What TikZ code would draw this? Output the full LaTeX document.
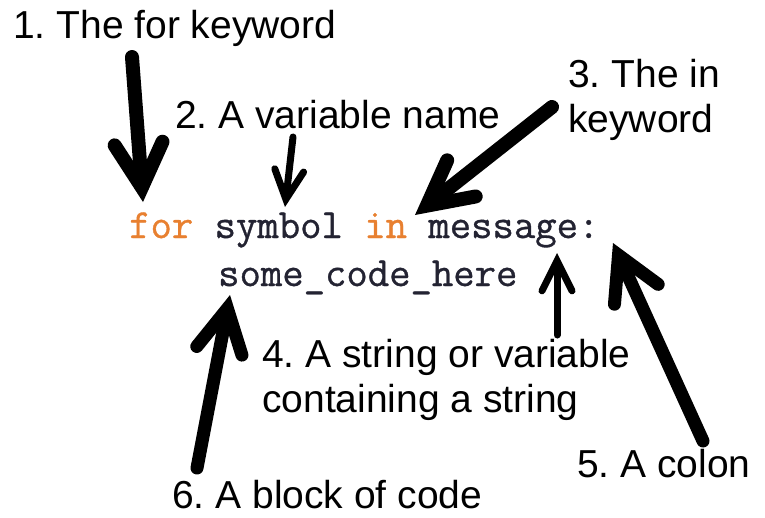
\documentclass[tikz,border=0pt]{standalone}
\usepackage{fontspec}
\setmainfont{Liberation Sans}
\newfontfamily\codefont[FakeBold=0.8]{Latin Modern Mono}
\usetikzlibrary{arrows.meta}
\definecolor{kw}{RGB}{232,128,48}
\definecolor{codeink}{RGB}{35,35,50}
\begin{document}
\frenchspacing
\begin{tikzpicture}[x=1pt,y=-1pt,
  lbl/.style={anchor=base west, inner sep=0pt, font=\fontsize{39}{45}\selectfont, text=black},
  codetxt/.style={anchor=base west, inner sep=0pt, font=\fontsize{41.5}{48}\selectfont\codefont, text=codeink},
  arr/.style n args={3}{line width=#1pt, line cap=round,
    -{Straight Barb[length=#2pt,width=#3pt,line cap=round,line join=miter]}},
]
\useasboundingbox (0,0) rectangle (765,517);
\fill[white] (0,0) rectangle (765,517);

% labels
\node[lbl] (t1)  at (13,38)   {1. The for keyword};
\node[lbl] (t2)  at (175,128) {2. A variable name};
\node[lbl] (t3a) at (568,87)  {3. The in};
\node[lbl] (t3b) at (568,132) {keyword};
\node[lbl] (t4a) at (262,367) {4. A string or variable};
\node[lbl] (t4b) at (262,412) {containing a string};
\node[lbl] (t5)  at (577,477) {5. A colon};
\node[lbl] (t6)  at (172,508) {6. A block of code};

% code
\node[codetxt] (code1) at (129,238) {\textcolor{kw}{for} symbol \textcolor{kw}{in} message:};
\node[codetxt] (code2) at (218,286) {some\_code\_here};

% arrow ends
\coordinate (a1s) at (132,57);  \coordinate (a1e) at (143,202);
\coordinate (a2s) at (293,137); \coordinate (a2e) at (285,207);
\coordinate (a3s) at (552,107); \coordinate (a3e) at (415,215);
\coordinate (a4s) at (557,335); \coordinate (a4e) at (557,253);
\coordinate (a5s) at (703,441); \coordinate (a5e) at (613,243);
\coordinate (a6s) at (197,468); \coordinate (a6e) at (230,295);

\draw[arr={14}{44}{48}] (a1s) -- (a1e);
\draw[arr={7}{29}{29}]  (a2s) -- (a2e);
\draw[arr={14}{44}{46}] (a3s) -- (a3e);
\draw[arr={7}{30}{30}]  (a4s) -- (a4e);
\draw[arr={13}{43}{48}] (a5s) -- (a5e);
\draw[arr={13}{43}{46}] (a6s) -- (a6e);
\end{tikzpicture}
\end{document}
